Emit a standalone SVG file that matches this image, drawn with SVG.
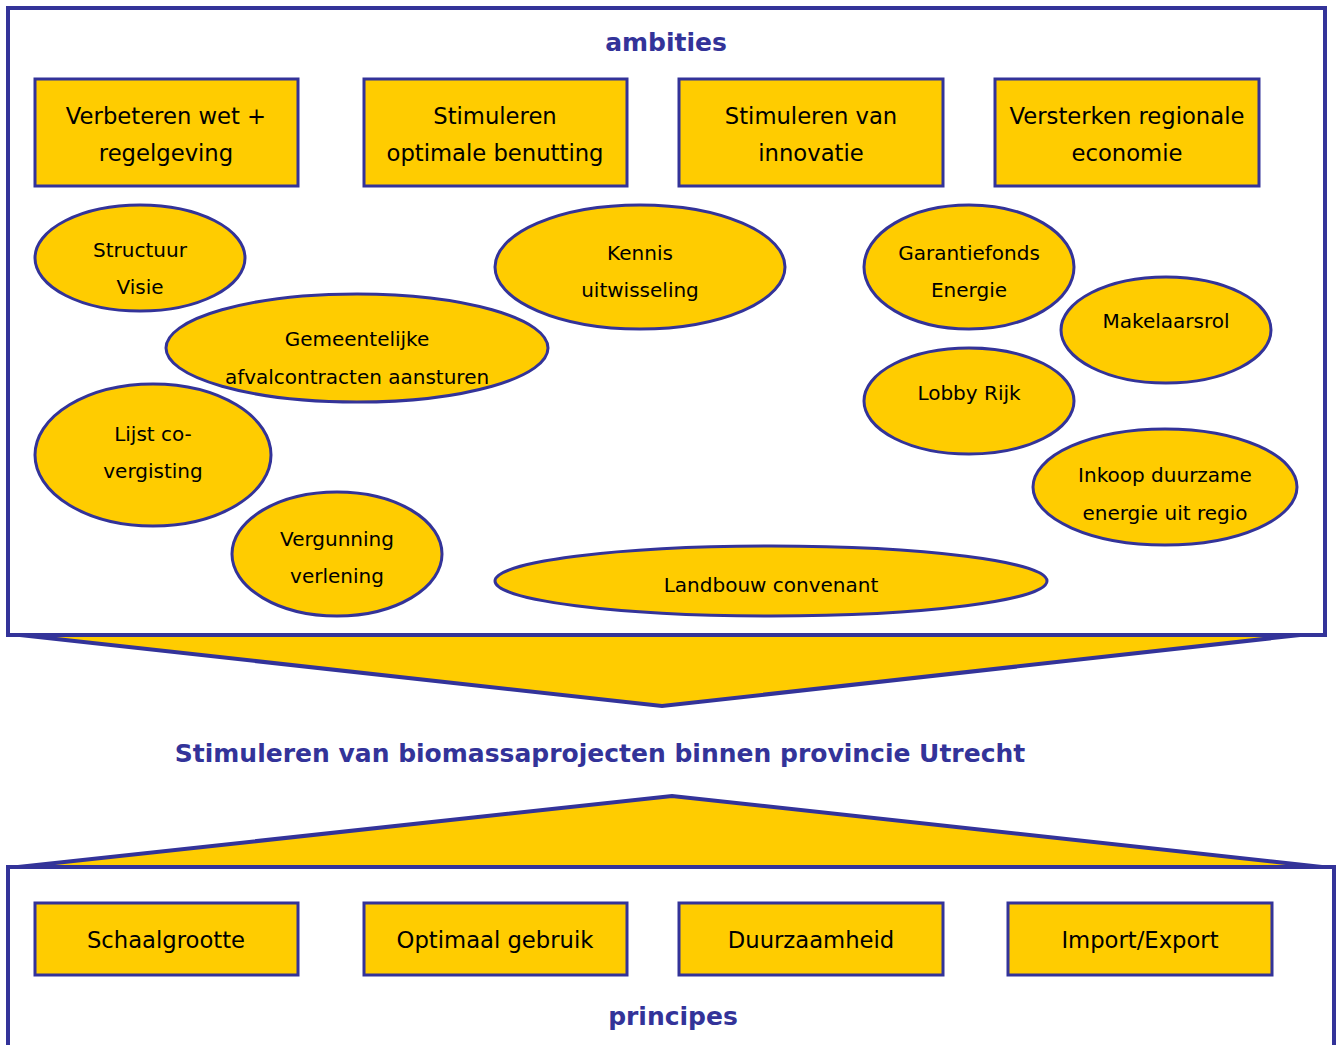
<svg xmlns="http://www.w3.org/2000/svg" width="1336" height="1045" viewBox="0 0 1336 1045">
<style>
.frame{fill:#fff;stroke:#333399;stroke-width:4}
.box{fill:#FFCC00;stroke:#333399;stroke-width:3}
.funnel{fill:#FFCC00;stroke:#333399;stroke-width:4;stroke-linejoin:miter}
.t{font-family:"DejaVu Sans",Verdana,sans-serif;fill:#000;text-anchor:middle;dominant-baseline:central}
.bt{font-size:22.7px}
.et{font-size:20px}
.h{font-family:"DejaVu Sans",Verdana,sans-serif;font-weight:bold;fill:#333399;text-anchor:middle;dominant-baseline:central;font-size:25px}
</style>
<rect width="1336" height="1045" fill="#fff"/>
<g id="ambities-frame">
<rect class="frame" x="8" y="8" width="1317" height="627"/>
<text class="h" x="666" y="42">ambities</text>
</g>
<g id="principes-frame">
<rect class="frame" x="8" y="867" width="1326" height="190"/>
<text class="h" x="673" y="1016">principes</text>
</g>
<g id="connectors">
<polygon class="funnel" points="20,635 1300,635 662,706"/>
<polygon class="funnel" points="18,867 672,796 1322,867"/>
</g>
<g id="goal">
<text class="h" x="600" y="753">Stimuleren van biomassaprojecten binnen provincie Utrecht</text>
</g>
<g id="a1"><rect class="box" x="35" y="79" width="263" height="107"/><text class="t bt" x="166" y="116">Verbeteren wet +</text><text class="t bt" x="166" y="153">regelgeving</text></g>
<g id="a2"><rect class="box" x="364" y="79" width="263" height="107"/><text class="t bt" x="495" y="116">Stimuleren</text><text class="t bt" x="495" y="153">optimale benutting</text></g>
<g id="a3"><rect class="box" x="679" y="79" width="264" height="107"/><text class="t bt" x="811" y="116">Stimuleren van</text><text class="t bt" x="811" y="153">innovatie</text></g>
<g id="a4"><rect class="box" x="995" y="79" width="264" height="107"/><text class="t bt" x="1127" y="116">Versterken regionale</text><text class="t bt" x="1127" y="153">economie</text></g>
<g id="e1"><ellipse class="box" cx="140" cy="258" rx="105" ry="53"/><text class="t et" x="140" y="250">Structuur</text><text class="t et" x="140" y="287">Visie</text></g>
<g id="e2"><ellipse class="box" cx="357" cy="348" rx="191" ry="54"/><text class="t et" x="357" y="339">Gemeentelijke</text><text class="t et" x="357" y="377">afvalcontracten aansturen</text></g>
<g id="e3"><ellipse class="box" cx="640" cy="267" rx="145" ry="62"/><text class="t et" x="640" y="253">Kennis</text><text class="t et" x="640" y="290">uitwisseling</text></g>
<g id="e4"><ellipse class="box" cx="969" cy="267" rx="105" ry="62"/><text class="t et" x="969" y="253">Garantiefonds</text><text class="t et" x="969" y="290">Energie</text></g>
<g id="e5"><ellipse class="box" cx="1166" cy="330" rx="105" ry="53"/><text class="t et" x="1166" y="321">Makelaarsrol</text></g>
<g id="e6"><ellipse class="box" cx="969" cy="401" rx="105" ry="53"/><text class="t et" x="969" y="393">Lobby Rijk</text></g>
<g id="e7"><ellipse class="box" cx="1165" cy="487" rx="132" ry="58"/><text class="t et" x="1165" y="475">Inkoop duurzame</text><text class="t et" x="1165" y="513">energie uit regio</text></g>
<g id="e8"><ellipse class="box" cx="153" cy="455" rx="118" ry="71"/><text class="t et" x="153" y="434">Lijst co-</text><text class="t et" x="153" y="471">vergisting</text></g>
<g id="e9"><ellipse class="box" cx="337" cy="554" rx="105" ry="62"/><text class="t et" x="337" y="539">Vergunning</text><text class="t et" x="337" y="576">verlening</text></g>
<g id="e10"><ellipse class="box" cx="771" cy="581" rx="276" ry="35"/><text class="t et" x="771" y="585">Landbouw convenant</text></g>
<g id="p1"><rect class="box" x="35" y="903" width="263" height="72"/><text class="t bt" x="166" y="940">Schaalgrootte</text></g>
<g id="p2"><rect class="box" x="364" y="903" width="263" height="72"/><text class="t bt" x="495" y="940">Optimaal gebruik</text></g>
<g id="p3"><rect class="box" x="679" y="903" width="264" height="72"/><text class="t bt" x="811" y="940">Duurzaamheid</text></g>
<g id="p4"><rect class="box" x="1008" y="903" width="264" height="72"/><text class="t bt" x="1140" y="940">Import/Export</text></g>
</svg>
